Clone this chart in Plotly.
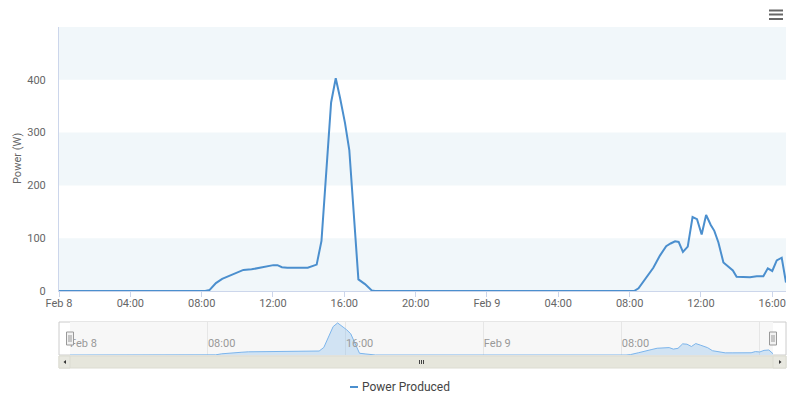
import pandas as pd
import plotly.graph_objects as go

# ---- data ----
base_date = "2017-02-08 00:00"
hours = [0, 8.2, 8.45, 8.8, 9.15, 9.55, 9.97, 10.34, 10.8, 11.2, 11.65, 12.02, 12.25, 12.5, 12.8,
         13.5, 13.95, 14.45, 14.72, 15.26, 15.52, 15.76, 16.04, 16.28, 16.79, 17.16, 17.54, 17.72,
         32.25, 32.5, 32.96, 33.33, 33.7, 34.05, 34.3, 34.55, 34.75, 34.99, 35.26, 35.53, 35.78,
         36.04, 36.29, 36.55, 36.75, 36.98, 37.26, 37.54, 37.79, 38.0, 38.4, 38.75, 39.13, 39.5,
         39.75, 40.0, 40.25, 40.53, 40.77]
power = [0, 0, 2, 15, 23, 29, 35, 40, 41, 44, 46, 49, 49, 45, 44,
         44, 44, 50, 95, 357, 403, 366, 318, 267, 22, 13, 1, 0,
         0, 5, 28, 44, 67, 85, 90, 94, 93, 74, 84, 140, 136,
         107, 144, 125, 114, 92, 54, 47, 39, 27, 27, 26, 28, 28,
         43, 38, 58, 63, 16]
main_tick_hours = [0, 4, 8, 12, 16, 20, 24, 28, 32, 36, 40]
main_tick_text = ["Feb 8", "04:00", "08:00", "12:00", "16:00", "20:00", "Feb 9", "04:00", "08:00", "12:00", "16:00"]
nav_tick_hours = [0, 8, 16, 24, 32, 40]
nav_tick_text = ["Feb 8", "08:00", "16:00", "Feb 9", "08:00", ""]
y_ticks = [0, 100, 200, 300, 400]
series_name = "Power Produced"

t0 = pd.Timestamp(base_date)
times = [t0 + pd.to_timedelta(h, unit="h") for h in hours]
x_end = t0 + pd.to_timedelta(hours[-1], unit="h")
main_ticks = [t0 + pd.to_timedelta(h, unit="h") for h in main_tick_hours]
nav_ticks = [t0 + pd.to_timedelta(h, unit="h") for h in nav_tick_hours]

W, H = 800, 399
ML, MR, MT, MB = 59, 14, 27, 31
PW = W - ML - MR
PH = H - MT - MB


def px_x(p):
    return (p - ML) / PW


def px_y(p):
    return (H - MB - p) / PH


LINE = "#4b8fce"
FONT = "Roboto, Open Sans, sans-serif"

fig = go.Figure()
fig.add_trace(go.Scatter(x=times, y=power, mode="lines", name=series_name,
                         line=dict(color=LINE, width=2), showlegend=False,
                         xaxis="x", yaxis="y"))
fig.add_trace(go.Scatter(x=times, y=power, mode="lines", fill="tozeroy",
                         fillcolor="rgba(124,181,236,0.3)",
                         line=dict(color="#7cb5ec", width=1), showlegend=False,
                         hoverinfo="skip", xaxis="x2", yaxis="y2"))

shapes = []
# alternate grid bands
for b0 in (0, 200, 400):
    shapes.append(dict(type="rect", xref="paper", yref="y", x0=0, x1=1, y0=b0, y1=b0 + 100,
                       fillcolor="#f1f7fa", line=dict(width=0), layer="below"))
# navigator background
shapes.append(dict(type="rect", xref="paper", yref="paper", x0=px_x(59), x1=px_x(786),
                   y0=px_y(355), y1=px_y(322), fillcolor="#ffffff",
                   line=dict(color="#cccccc", width=1), layer="below"))
shapes.append(dict(type="rect", xref="paper", yref="paper", x0=px_x(70), x1=px_x(773),
                   y0=px_y(355), y1=px_y(322), fillcolor="#f7f7f7",
                   line=dict(width=0), layer="below"))
# scrollbar
shapes.append(dict(type="rect", xref="paper", yref="paper", x0=px_x(59), x1=px_x(786),
                   y0=px_y(368), y1=px_y(356), fillcolor="#e6e6dc",
                   line=dict(color="#dcdcd2", width=1)))
shapes.append(dict(type="rect", xref="paper", yref="paper", x0=px_x(59), x1=px_x(70),
                   y0=px_y(368), y1=px_y(356), fillcolor="#e8e8e0",
                   line=dict(color="#dcdcd2", width=1)))
shapes.append(dict(type="rect", xref="paper", yref="paper", x0=px_x(773), x1=px_x(786),
                   y0=px_y(368), y1=px_y(356), fillcolor="#e8e8e0",
                   line=dict(color="#dcdcd2", width=1)))
# arrows
shapes.append(dict(type="path", xref="paper", yref="paper",
                   path=f"M {px_x(63.5)} {px_y(362)} L {px_x(66)} {px_y(360)} L {px_x(66)} {px_y(364)} Z",
                   fillcolor="#333333", line=dict(width=0)))
shapes.append(dict(type="path", xref="paper", yref="paper",
                   path=f"M {px_x(781.5)} {px_y(362)} L {px_x(779)} {px_y(360)} L {px_x(779)} {px_y(364)} Z",
                   fillcolor="#333333", line=dict(width=0)))
# grip
for gx in (419.5, 421.5, 423.5):
    shapes.append(dict(type="line", xref="paper", yref="paper", x0=px_x(gx), x1=px_x(gx),
                       y0=px_y(360), y1=px_y(364), line=dict(color="#444444", width=1)))
# handles
for hx in (70, 773):
    shapes.append(dict(type="rect", xref="paper", yref="paper", x0=px_x(hx - 3.5), x1=px_x(hx + 3.5),
                       y0=px_y(345), y1=px_y(332), fillcolor="#f2f2f2",
                       line=dict(color="#999999", width=1)))
    for dx in (-1, 1):
        shapes.append(dict(type="line", xref="paper", yref="paper", x0=px_x(hx + dx), x1=px_x(hx + dx),
                           y0=px_y(342), y1=px_y(335), line=dict(color="#999999", width=1)))
# hamburger menu
for hy in (10.5, 14.5, 19):
    shapes.append(dict(type="rect", xref="paper", yref="paper", x0=px_x(769), x1=px_x(783),
                       y0=px_y(hy + 1), y1=px_y(hy - 1), fillcolor="#666666", line=dict(width=0)))
# legend symbol
shapes.append(dict(type="line", xref="paper", yref="paper", x0=px_x(350), x1=px_x(358),
                   y0=px_y(387), y1=px_y(387), line=dict(color=LINE, width=2)))

annotations = [
    dict(text="Power (W)", xref="paper", yref="paper", x=px_x(17), y=px_y(159), textangle=-90,
         showarrow=False, font=dict(family=FONT, size=11, color="#666666"),
         xanchor="center", yanchor="middle"),
    dict(text=series_name, xref="paper", yref="paper", x=px_x(360), y=px_y(387),
         showarrow=False, font=dict(family=FONT, size=12, color="#444444"),
         xanchor="left", yanchor="middle"),
]

fig.update_layout(
    width=W, height=H,
    margin=dict(l=ML, r=MR, t=MT, b=MB),
    paper_bgcolor="white", plot_bgcolor="rgba(0,0,0,0)",
    font=dict(family=FONT, size=11, color="#666666"),
    showlegend=False,
    shapes=shapes, annotations=annotations,
    xaxis=dict(domain=[0, 1], anchor="y", range=[t0, x_end], tickvals=main_ticks,
               ticktext=main_tick_text, showgrid=False, zeroline=False, showline=True,
               linecolor="#ccd6eb", linewidth=1, ticks="outside", ticklen=5,
               tickcolor="#ccd6eb", ticklabelstandoff=-3,
               tickfont=dict(size=11, color="#666666")),
    yaxis=dict(domain=[px_y(291), 1], anchor="x", range=[0, 500], tickvals=y_ticks,
               showgrid=False, zeroline=False, showline=True, linecolor="#ccd6eb",
               ticks="", ticklabelstandoff=10, tickfont=dict(size=11, color="#666666")),
    xaxis2=dict(domain=[px_x(70), px_x(773)], anchor="y2", range=[t0, x_end],
                tickvals=nav_ticks, ticktext=nav_tick_text, showgrid=True,
                gridcolor="#e6e6e6", zeroline=False, showline=False, ticks="",
                ticklabelposition="inside right", tickfont=dict(size=11, color="#999999")),
    yaxis2=dict(domain=[px_y(355), px_y(322)], anchor="x2", range=[0, 415],
                showgrid=False, zeroline=False, showticklabels=False, ticks=""),
)

fig.write_html("out.html")
